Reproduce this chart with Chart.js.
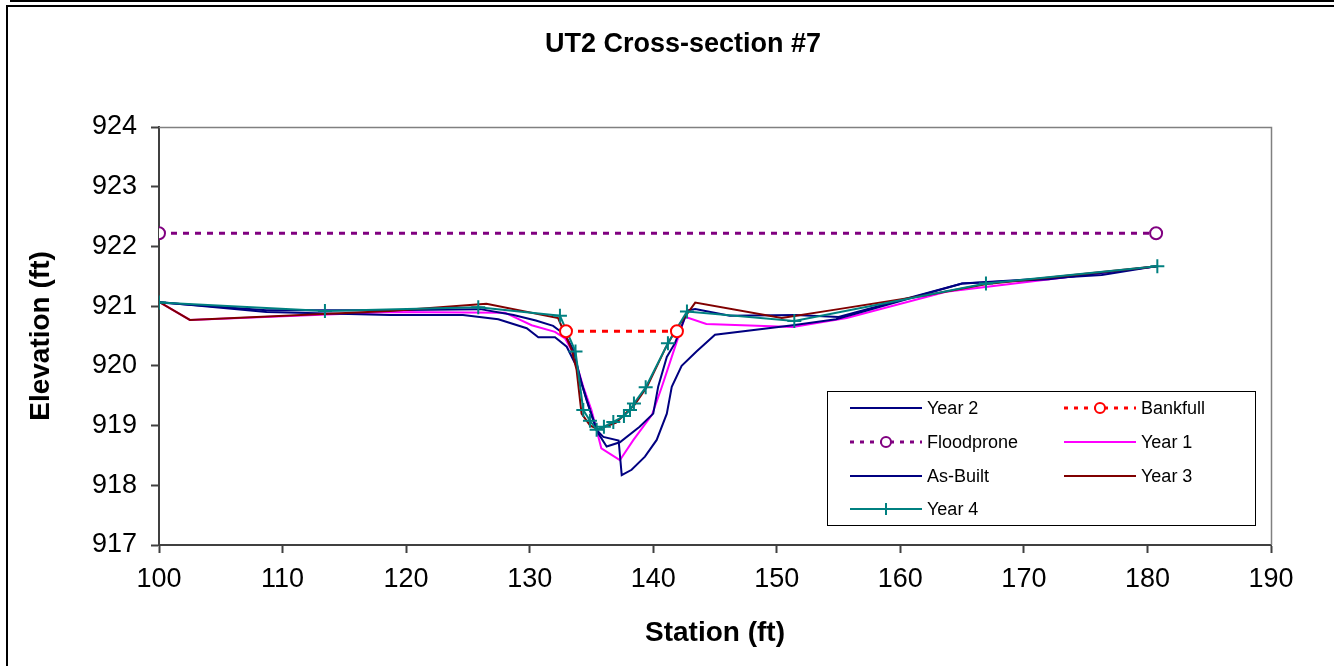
<!DOCTYPE html>
<html>
<head>
<meta charset="utf-8">
<title>UT2 Cross-section #7</title>
<script src="https://cdn.jsdelivr.net/npm/chart.js@4.4.0/dist/chart.umd.min.js"></script>
<style>
    body { margin: 0; background: #fff; }
    #wrap { position: relative; width: 1334px; height: 666px; overflow: hidden; }
    #topLine { position: absolute; left: 10px; top: 0; width: 1324px; height: 2px; background: #000; }
    #frame { position: absolute; left: 6px; top: 5px; width: 1400px; height: 800px; border-left: 2px solid #000; border-top: 2px solid #000; }
    canvas { position: absolute; left: 0; top: 0; }
</style>
</head>
<body>
<div id="wrap">
    <div id="topLine"></div>
    <div id="frame"></div>
    <canvas id="chart" width="1334" height="666"></canvas>
</div>
<script>
// Datos (station ft, elevation ft)
const year2Station = [100, 108.7, 118, 126, 128.7, 130.5, 131.9, 132.86, 133.53, 134.2, 134.88, 135.55, 136.23, 137.3, 138.9, 140.0, 140.4, 141.1, 141.76, 142.8, 143.4, 146.2, 151.5, 155, 165, 172, 180.8];
const year2Elev = [921.06, 920.93, 920.93, 920.95, 920.85, 920.76, 920.67, 920.52, 920.27, 919.71, 919.26, 918.87, 918.65, 918.72, 918.98, 919.2, 919.65, 920.15, 920.38, 920.93, 920.95, 920.84, 920.85, 920.82, 921.38, 921.45, 921.67];

const asBuiltStation = [100, 108.7, 118.7, 124.6, 127.46, 129.76, 130.7, 132.05, 133.0, 133.8, 134.6, 135.4, 135.96, 137.2, 137.45, 138.25, 139.33, 140.28, 141.1, 141.5, 142.3, 143.5, 145.0, 151.3, 154.8, 165, 176.3, 180.8];
const asBuiltElev = [921.07, 920.9, 920.85, 920.85, 920.78, 920.63, 920.48, 920.48, 920.32, 919.99, 919.43, 918.93, 918.81, 918.75, 918.17, 918.26, 918.48, 918.76, 919.2, 919.65, 920.0, 920.24, 920.52, 920.68, 920.78, 921.38, 921.52, 921.67];

const year1Station = [100, 102.5, 118.7, 128, 130.16, 132.05, 132.86, 133.53, 134.34, 135.0, 135.8, 137.3, 138.4, 139.9, 140.7, 141.5, 142.57, 144.3, 151.3, 155.66, 163.7, 180.8];
const year1Elev = [921.07, 920.77, 920.9, 920.89, 920.68, 920.57, 920.46, 920.21, 919.65, 919.26, 918.62, 918.42, 918.76, 919.18, 919.65, 920.15, 920.82, 920.7, 920.65, 920.8, 921.24, 921.67];

const year3Station = [100, 102.5, 118.7, 126.5, 132.3, 133.4, 133.8, 134.2, 134.9, 135.55, 137.0, 138.5, 139.5, 141.0, 141.8, 143.4, 150.4, 155, 162, 167, 180.8];
const year3Elev = [921.07, 920.77, 920.92, 921.04, 920.8, 920.27, 919.93, 919.2, 919.0, 918.94, 919.05, 919.35, 919.65, 920.3, 920.6, 921.06, 920.8, 920.95, 921.18, 921.37, 921.67];

const year4Station = [100, 113.43, 125.84, 132.45, 133.71, 134.34, 134.88, 135.42, 136.01, 136.77, 137.63, 138.12, 138.44, 139.39, 141.19, 142.73, 151.42, 166.93, 180.8];
const year4Elev = [921.06, 920.92, 920.98, 920.84, 920.24, 919.26, 919.08, 918.93, 918.98, 919.06, 919.16, 919.26, 919.37, 919.64, 920.38, 920.91, 920.75, 921.38, 921.67];

const bankfullStation = [132.94, 141.92];
const bankfullElev = [920.58, 920.58];

const floodproneStation = [100, 180.7];
const floodproneElev = [922.22, 922.22];

const xTicks = [100, 110, 120, 130, 140, 150, 160, 170, 180, 190];
const yTicks = [917, 918, 919, 920, 921, 922, 923, 924];

const fuente = 'Arial, "Liberation Sans", sans-serif';

function puntos(st, el) {
    return st.map((x, i) => ({ x: x, y: el[i] }));
}

// Titulo y marco del area de trazado
const extras = {
    id: 'extras',
    beforeDatasetsDraw(chart) {
        const { ctx, chartArea: a } = chart;
        ctx.save();
        ctx.strokeStyle = '#808080';
        ctx.lineWidth = 1.5;
        ctx.beginPath();
        ctx.moveTo(a.left, a.top + 0.5);
        ctx.lineTo(a.right + 0.5, a.top + 0.5);
        ctx.lineTo(a.right + 0.5, a.bottom);
        ctx.stroke();
        ctx.restore();
    },
    afterDraw(chart) {
        const ctx = chart.ctx;
        ctx.save();
        ctx.fillStyle = '#000';
        ctx.font = 'bold 27px ' + fuente;
        ctx.textAlign = 'center';
        ctx.textBaseline = 'middle';
        ctx.fillText('UT2 Cross-section #7', 683, 45);
        ctx.restore();
    }
};

// Leyenda en dos columnas dentro del grafico
const leyenda = {
    id: 'leyenda',
    afterDraw(chart) {
        const ctx = chart.ctx;
        const box = { x: 827.5, y: 391.5, w: 428, h: 134 };
        ctx.save();
        ctx.fillStyle = '#fff';
        ctx.fillRect(box.x, box.y, box.w, box.h);
        ctx.strokeStyle = '#000';
        ctx.lineWidth = 1;
        ctx.strokeRect(box.x, box.y, box.w, box.h);

        const cols = [850, 1064];
        const rows = [408, 442, 476, 509];
        chart.data.datasets.forEach((ds, i) => {
            const x0 = cols[i % 2];
            const y0 = rows[Math.floor(i / 2)];
            ctx.strokeStyle = ds.borderColor;
            ctx.lineWidth = ds.borderWidth;
            ctx.setLineDash(ds.borderDash ? [4, 6] : []);
            ctx.beginPath();
            ctx.moveTo(x0, y0);
            ctx.lineTo(x0 + 72, y0);
            ctx.stroke();
            ctx.setLineDash([]);
            ctx.lineWidth = 2;
            if (ds.pointStyle === 'circle') {
                ctx.fillStyle = '#fff';
                ctx.beginPath();
                ctx.arc(x0 + 36, y0, 5, 0, Math.PI * 2);
                ctx.fill();
                ctx.stroke();
            } else if (ds.pointStyle === 'cross') {
                ctx.beginPath();
                ctx.moveTo(x0 + 36, y0 - 6);
                ctx.lineTo(x0 + 36, y0 + 6);
                ctx.stroke();
            }
            ctx.fillStyle = '#000';
            ctx.font = '18px ' + fuente;
            ctx.textAlign = 'left';
            ctx.textBaseline = 'middle';
            ctx.fillText(ds.label, x0 + 77, y0 + 1);
        });
        ctx.restore();
    }
};

const lineaBase = { borderWidth: 2, pointRadius: 0, fill: false, tension: 0 };

new Chart(document.getElementById('chart'), {
    type: 'line',
    data: {
        datasets: [
            Object.assign({}, lineaBase, { label: 'Year 2', data: puntos(year2Station, year2Elev), borderColor: '#000080', order: 4 }),
            Object.assign({}, lineaBase, { label: 'Bankfull', data: puntos(bankfullStation, bankfullElev), borderColor: '#FF0000', borderWidth: 3, borderDash: [6, 6],
                pointStyle: 'circle', pointRadius: 6, pointBorderWidth: 2, pointBorderColor: '#FF0000', pointBackgroundColor: '#fff', order: 0 }),
            Object.assign({}, lineaBase, { label: 'Floodprone', data: puntos(floodproneStation, floodproneElev), borderColor: '#800080', borderWidth: 3, borderDash: [6, 6],
                pointStyle: 'circle', pointRadius: 6, pointBorderWidth: 2, pointBorderColor: '#800080', pointBackgroundColor: '#fff', order: 0 }),
            Object.assign({}, lineaBase, { label: 'Year 1', data: puntos(year1Station, year1Elev), borderColor: '#FF00FF', order: 5 }),
            Object.assign({}, lineaBase, { label: 'As-Built', data: puntos(asBuiltStation, asBuiltElev), borderColor: '#000080', order: 3 }),
            Object.assign({}, lineaBase, { label: 'Year 3', data: puntos(year3Station, year3Elev), borderColor: '#800000', order: 2 }),
            Object.assign({}, lineaBase, { label: 'Year 4', data: puntos(year4Station, year4Elev), borderColor: '#008080',
                pointStyle: 'cross', pointRadius: 7, pointBorderWidth: 2, pointBorderColor: '#008080', order: 1 })
        ]
    },
    options: {
        responsive: false,
        animation: false,
        events: [],
        layout: { padding: { left: 0, right: 63, top: 127, bottom: 0 } },
        plugins: {
            legend: { display: false },
            tooltip: { enabled: false },
            title: { display: false }
        },
        scales: {
            x: {
                type: 'linear',
                min: xTicks[0],
                max: xTicks[xTicks.length - 1],
                afterBuildTicks: s => { s.ticks = xTicks.map(v => ({ value: v })); },
                afterFit: s => { s.height = 121; },
                ticks: { color: '#000', font: { family: fuente, size: 27 }, padding: 10, maxRotation: 0 },
                grid: { drawOnChartArea: false, tickLength: 8, tickColor: '#404040', tickWidth: 2 },
                border: { color: '#404040', width: 2 },
                title: { display: true, text: 'Station (ft)', color: '#000', font: { family: fuente, size: 28, weight: 'bold' }, padding: { top: 16, bottom: 16 } }
            },
            y: {
                type: 'linear',
                min: yTicks[0],
                max: yTicks[yTicks.length - 1],
                afterBuildTicks: s => { s.ticks = yTicks.map(v => ({ value: v })); },
                afterFit: s => { s.width = 159; },
                ticks: { color: '#000', font: { family: fuente, size: 27 }, padding: 14 },
                grid: { drawOnChartArea: false, tickLength: 8, tickColor: '#404040', tickWidth: 2 },
                border: { color: '#404040', width: 2 },
                title: { display: true, text: 'Elevation (ft)', color: '#000', font: { family: fuente, size: 28, weight: 'bold' }, padding: { top: 24, bottom: 24 } }
            }
        }
    },
    plugins: [extras, leyenda]
});
</script>
</body>
</html>
